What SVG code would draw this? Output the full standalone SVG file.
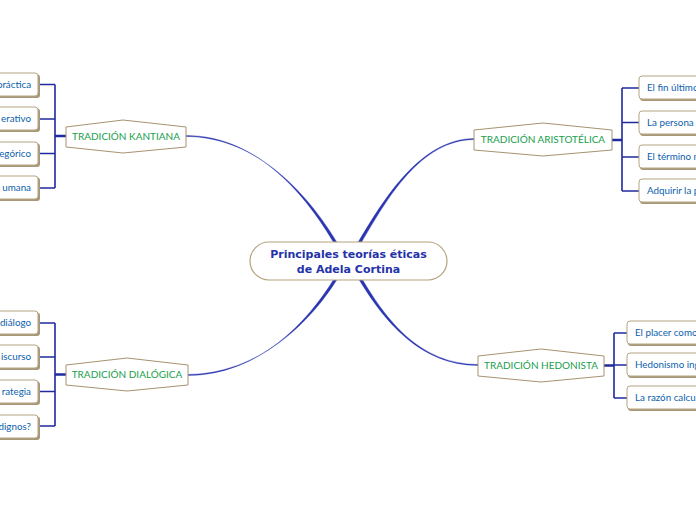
<svg xmlns="http://www.w3.org/2000/svg" width="696" height="520" viewBox="0 0 696 520">
<style>
.curve{fill:#2a35b0;stroke:#2a35b0;stroke-width:0.4}
.tree{fill:none;stroke:#1f2a9e;stroke-width:1.6}
.stem{fill:none;stroke:#1f2a9e;stroke-width:2.5}
.hex{fill:#fff;stroke:#a89270;stroke-width:1}
.box{fill:#fff;stroke:#b5a582;stroke-width:1}
.shadow{fill:#a8987a}
.main{fill:#fff;stroke:#b5a27e;stroke-width:1.2}
.mt{font-family:"DejaVu Sans",Verdana,sans-serif;font-weight:bold;font-size:11px;fill:#2532a8;text-anchor:middle}
.nt{font-family:Lato,"Open Sans",sans-serif;font-size:10px;fill:#18a04c;text-anchor:middle}
.ct{font-family:Lato,"Open Sans",sans-serif;font-size:9.8px;fill:#0d5fab}
.end{text-anchor:end}
</style>
<g id="connectors">
<path class="curve" d="M186,135.5 C260,135.5 308.5,200 333.3,242 L 336.7,242 C 311.5,200 260,136.5 186,136.5 Z"/>
<path class="curve" d="M475,138.5 C420,138.5 383.5,200 358.3,242 L 361.7,242 C 386.5,200 420,139.5 475,139.5 Z"/>
<path class="curve" d="M187,374.5 C260,374.5 311.5,320 336.7,280 L 333.3,280 C 308.5,320 260,375.5 187,375.5 Z"/>
<path class="curve" d="M478,364.5 C420,364.5 386.5,320 362.7,280 L 359.3,280 C 383.5,320 420,365.5 478,365.5 Z"/>
<path class="stem" d="M66,136 H55"/>
<path class="tree" d="M55,84.5 V188 M38,84.5 H55 M38,119 H55 M38,153.5 H55 M38,188 H55"/>
<path class="stem" d="M66,374.5 H55"/>
<path class="tree" d="M55,323 V426 M38,323 H55 M38,357 H55 M38,391.5 H55 M38,426 H55"/>
<path class="stem" d="M612,140 H622"/>
<path class="tree" d="M622,88 V191 M622,88 H639 M622,122.5 H639 M622,157 H639 M622,191 H639"/>
<path class="stem" d="M604,365.5 H614"/>
<path class="tree" d="M614,333 V398 M614,333 H627 M614,365 H627 M614,398 H627"/>
</g>
<g id="center">
<rect class="main" x="250" y="242" width="197" height="38" rx="19"/>
<text class="mt" x="348.5" y="258">Principales teorías éticas</text>
<text class="mt" x="348.5" y="273">de Adela Cortina</text>
</g>
<g id="kantiana">
<path class="hex" d="M66,127 L123,120 L186,127 V147 L123,153 L66,147 Z"/>
<text class="nt" x="126" y="140">TRADICIÓN KANTIANA</text>
</g>
<g id="aristotelica">
<path class="hex" d="M474,130 L543,123 L612,130 V150 L543,156 L474,150 Z"/>
<text class="nt" x="543" y="143">TRADICIÓN ARISTOTÉLICA</text>
</g>
<g id="dialogica">
<path class="hex" d="M66,365 L127,358 L188,365 V385 L127,391 L66,385 Z"/>
<text class="nt" x="127" y="378">TRADICIÓN DIALÓGICA</text>
</g>
<g id="hedonista">
<path class="hex" d="M478,356 L541,349 L604,356 V376 L541,382 L478,376 Z"/>
<text class="nt" x="541" y="369">TRADICIÓN HEDONISTA</text>
</g>
<g id="k1"><rect class="shadow" x="-10" y="74.5" width="50" height="23.5" rx="3"/><rect class="box" x="-10" y="73" width="48" height="23" rx="3"/><text class="ct end" x="31" y="88">práctica</text></g>
<g id="k2"><rect class="shadow" x="-10" y="108.5" width="50" height="23.5" rx="3"/><rect class="box" x="-10" y="107" width="48" height="23" rx="3"/><text class="ct end" x="31" y="122">erativo</text></g>
<g id="k3"><rect class="shadow" x="-10" y="143.5" width="50" height="23.5" rx="3"/><rect class="box" x="-10" y="142" width="48" height="23" rx="3"/><text class="ct end" x="31" y="157">egórico</text></g>
<g id="k4"><rect class="shadow" x="-10" y="177.5" width="50" height="23.5" rx="3"/><rect class="box" x="-10" y="176" width="48" height="23" rx="3"/><text class="ct end" x="31" y="191">umana</text></g>
<g id="d1"><rect class="shadow" x="-10" y="312.5" width="50" height="23.5" rx="3"/><rect class="box" x="-10" y="311" width="48" height="23" rx="3"/><text class="ct end" x="31" y="326">diálogo</text></g>
<g id="d2"><rect class="shadow" x="-10" y="346.5" width="50" height="23.5" rx="3"/><rect class="box" x="-10" y="345" width="48" height="23" rx="3"/><text class="ct end" x="31" y="360">iscurso</text></g>
<g id="d3"><rect class="shadow" x="-10" y="381.5" width="50" height="23.5" rx="3"/><rect class="box" x="-10" y="380" width="48" height="23" rx="3"/><text class="ct end" x="31" y="395">rategia</text></g>
<g id="d4"><rect class="shadow" x="-10" y="416.5" width="50" height="23.5" rx="3"/><rect class="box" x="-10" y="415" width="48" height="23" rx="3"/><text class="ct end" x="31" y="430">dignos?</text></g>
<g id="a1"><rect class="shadow" x="640" y="77.5" width="70" height="23.5" rx="3"/><rect class="box" x="639" y="76" width="70" height="23" rx="3"/><text class="ct" x="647" y="91">El fin último</text></g>
<g id="a2"><rect class="shadow" x="640" y="112.5" width="70" height="23.5" rx="3"/><rect class="box" x="639" y="111" width="70" height="23" rx="3"/><text class="ct" x="647" y="126">La persona</text></g>
<g id="a3"><rect class="shadow" x="640" y="146.5" width="70" height="23.5" rx="3"/><rect class="box" x="639" y="145" width="70" height="23" rx="3"/><text class="ct" x="647" y="160">El término m</text></g>
<g id="a4"><rect class="shadow" x="640" y="180.5" width="70" height="23.5" rx="3"/><rect class="box" x="639" y="179" width="70" height="23" rx="3"/><text class="ct" x="647" y="194">Adquirir la p</text></g>
<g id="h1"><rect class="shadow" x="628" y="322.5" width="80" height="23.5" rx="3"/><rect class="box" x="627" y="321" width="80" height="23" rx="3"/><text class="ct" x="635" y="336">El placer como</text></g>
<g id="h2"><rect class="shadow" x="628" y="354.5" width="80" height="23.5" rx="3"/><rect class="box" x="627" y="353" width="80" height="23" rx="3"/><text class="ct" x="635" y="368">Hedonismo ing</text></g>
<g id="h3"><rect class="shadow" x="628" y="387.5" width="80" height="23.5" rx="3"/><rect class="box" x="627" y="386" width="80" height="23" rx="3"/><text class="ct" x="635" y="401">La razón calcu</text></g>
</svg>
